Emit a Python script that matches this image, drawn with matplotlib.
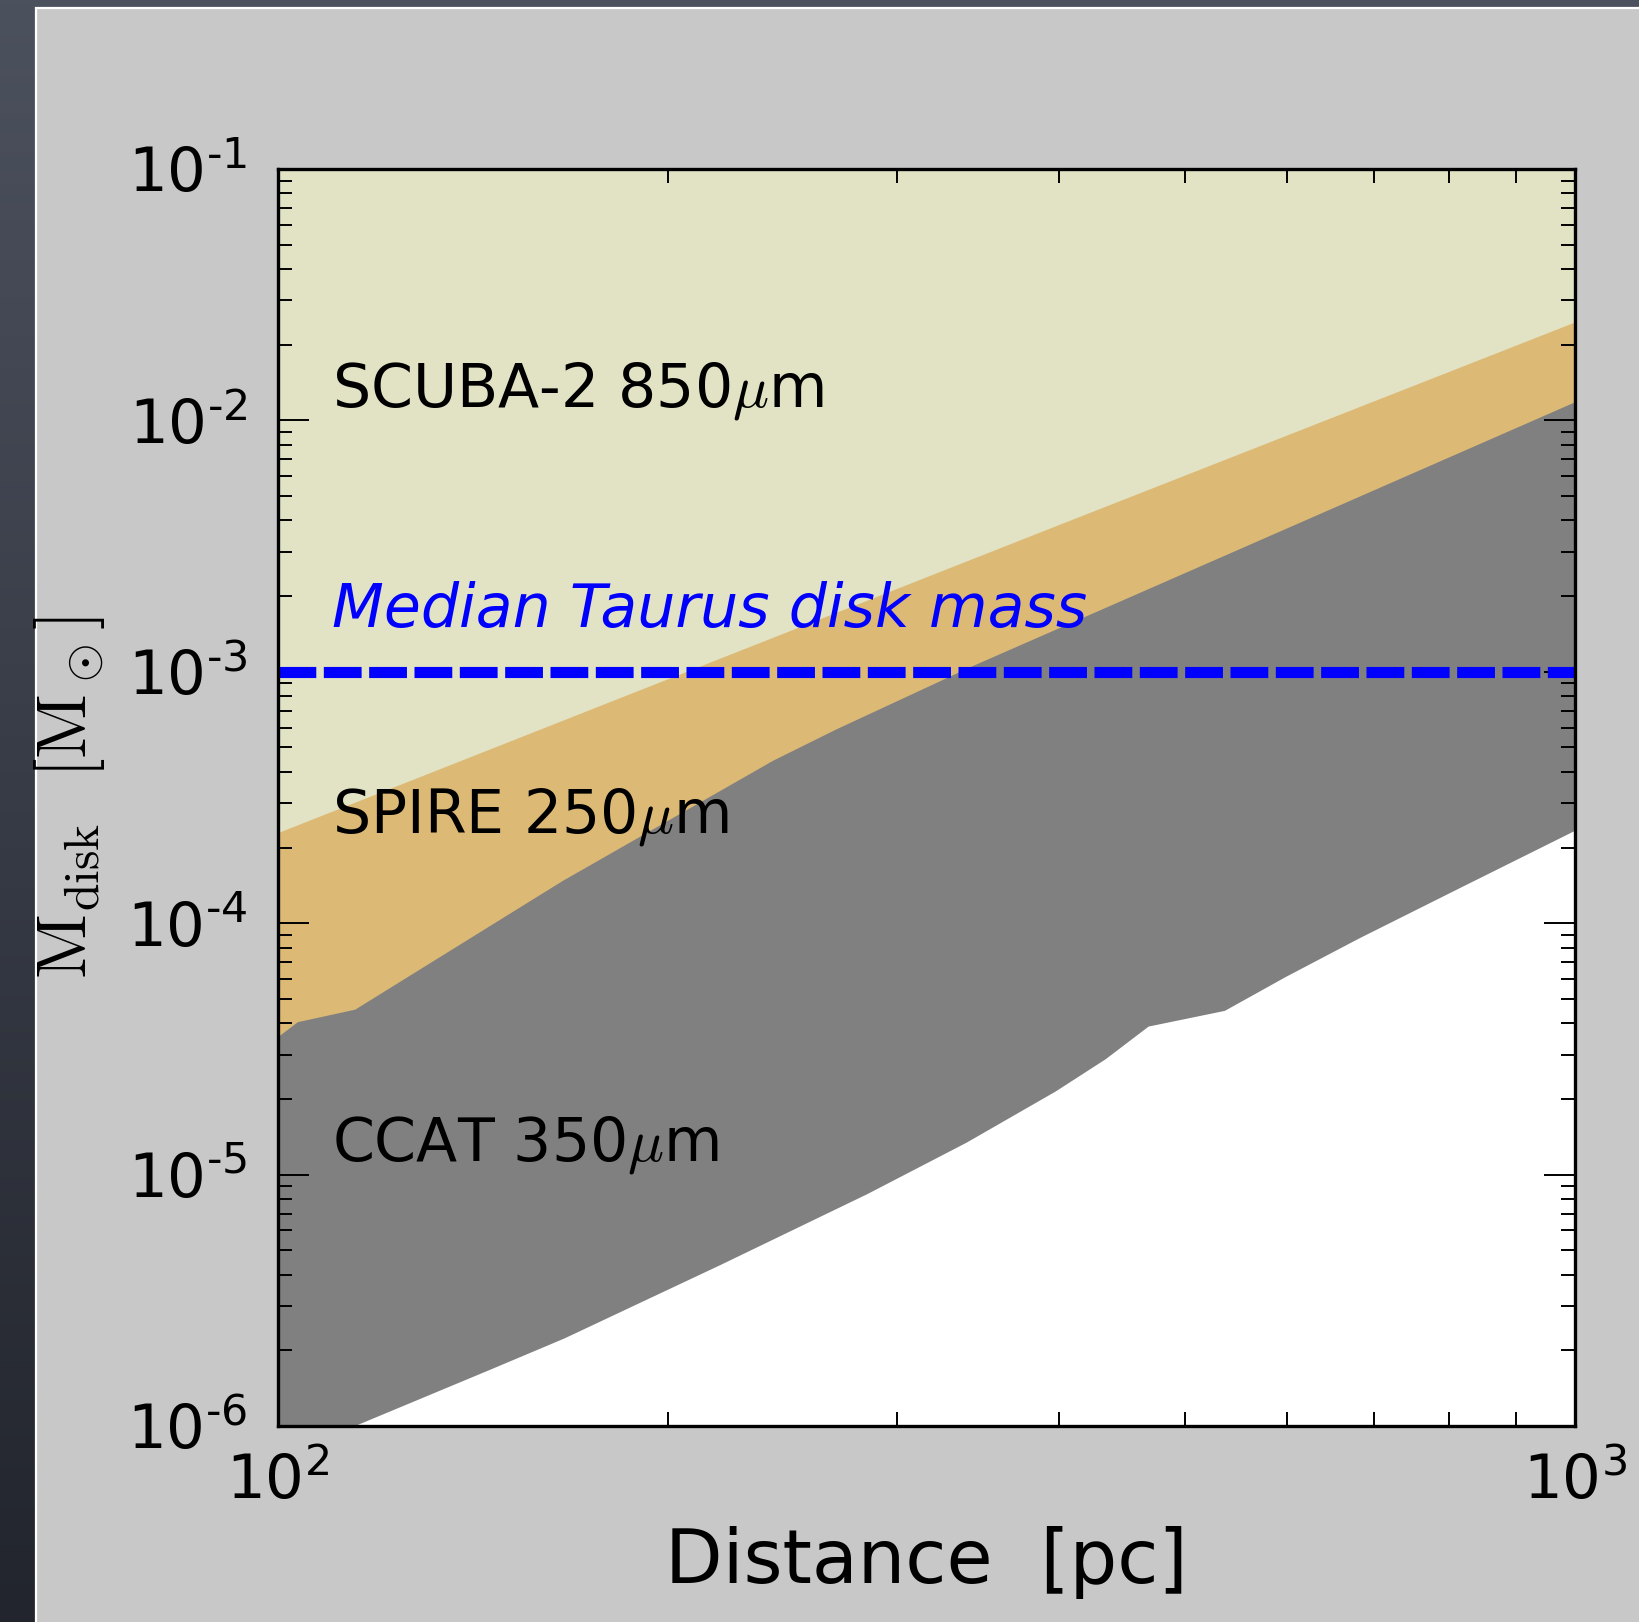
import numpy as np
import matplotlib
matplotlib.use("Agg")
import matplotlib.pyplot as plt
from matplotlib.patches import Rectangle
from matplotlib.colors import LinearSegmentedColormap
from matplotlib.ticker import FixedLocator, LogLocator, NullFormatter

plt.rcParams['font.family'] = ['DejaVu Sans']
plt.rcParams['mathtext.fontset'] = 'cm'

# ---------------- data ----------------
scuba_d = [100, 200, 400, 1000]
scuba_m = [2.28e-4, 9.35e-4, 3.83e-3, 2.45e-2]

spire_d = [100, 103.6, 114.7, 165.7, 240.9, 269.3, 342.8, 1000]
spire_m = [3.52e-5, 4.04e-5, 4.53e-5, 1.47e-4, 4.43e-4, 5.89e-4, 1.05e-3, 1.18e-2]

ccat_d = [100, 114.7, 146.0, 166.3, 219.6, 284.8, 339.6, 397.7, 434.8, 469.1,
          537.1, 598.1, 681.0, 820.0, 1000]
ccat_m = [7.45e-7, 1.0e-6, 1.68e-6, 2.23e-6, 4.38e-6, 8.37e-6, 1.34e-5, 2.14e-5,
          2.88e-5, 3.88e-5, 4.48e-5, 6.10e-5, 8.67e-5, 1.40e-4, 2.33e-4]

median_taurus = 1e-3
y_top = 1e-1

labels = ["SCUBA-2 850$\\mu$m", "SPIRE 250$\\mu$m", "CCAT 350$\\mu$m"]
label_pos = [(110.1, 1.14e-2), (110.1, 2.29e-4), (110.1, 1.14e-5)]
median_label = "Median Taurus disk mass"
median_label_pos = (110.1, 1.51e-3)

xticks = [100, 1000]
xtick_exp = ['2', '3']
yticks = [1e-6, 1e-5, 1e-4, 1e-3, 1e-2, 1e-1]
ytick_exp = ['-6', '-5', '-4', '-3', '-2', '-1']


def sci_label(e):
    e = e.replace('-', '\u2010')
    return r'$\mathdefault{10^{%s}}$' % e


# ---------------- figure ----------------
W, H = 1639, 1622
fig = plt.figure(figsize=(W / 100, H / 100), dpi=100)

# slide background
bg = fig.add_axes([0, 0, 1, 1], zorder=-10)
grad = np.linspace(0, 1, 256).reshape(-1, 1)
cmap = LinearSegmentedColormap.from_list("slide", ["#4c515e", "#22252d"])
bg.imshow(grad, aspect='auto', cmap=cmap, extent=[0, 1, 0, 1])
bg.set_axis_off()
bg.add_patch(Rectangle((35.5 / W, -0.01), 1.1, (H - 8) / H + 0.01, transform=bg.transAxes,
                       facecolor='#c8c8c8', edgecolor='white', linewidth=1.6, zorder=2))

ax = fig.add_axes([278 / W, 1 - 1426 / H, (1575 - 278) / W, (1426 - 169) / H])
ax.set_facecolor('white')
ax.set_xscale('log')
ax.set_yscale('log')

ax.fill_between(ccat_d, ccat_m, y_top, facecolor='#808080', edgecolor='none', zorder=0.5)
ax.fill_between(spire_d, spire_m, y_top, facecolor='#dcb975', edgecolor='none', zorder=0.6)
ax.fill_between(scuba_d, scuba_m, y_top, facecolor='#e2e2c4', edgecolor='none', zorder=0.7)

ax.axhline(median_taurus, color='#0000ff', lw=8, ls=(0, (3.4, 0.68)), zorder=2)

for lab, (x, y) in zip(labels, label_pos):
    ax.text(x, y, lab, fontsize=43.3, color='black', va='baseline', ha='left', zorder=3)
ax.text(*median_label_pos, median_label, fontsize=43.3, color='#0000ff', style='italic',
        va='baseline', ha='left', zorder=3)

ax.set_xlim(100, 1000)
ax.set_ylim(1e-6, 1e-1)

ax.xaxis.set_major_locator(FixedLocator(xticks))
ax.set_xticklabels([sci_label(e) for e in xtick_exp])
ax.yaxis.set_major_locator(FixedLocator(yticks))
ax.set_yticklabels([sci_label(e) for e in ytick_exp])
ax.xaxis.set_minor_locator(LogLocator(base=10, subs=np.arange(2, 10)))
ax.yaxis.set_minor_locator(LogLocator(base=10, subs=np.arange(2, 10), numticks=20))
ax.xaxis.set_minor_formatter(NullFormatter())
ax.yaxis.set_minor_formatter(NullFormatter())

ax.tick_params(which='both', direction='in', top=True, right=True, color='black')
ax.tick_params(which='major', length=22, width=1.4, labelsize=44)
ax.tick_params(which='minor', length=10, width=1.4)
ax.tick_params(axis='y', which='major', pad=22)
ax.tick_params(axis='x', which='major', pad=19)

for s in ax.spines.values():
    s.set_linewidth(2.4)
    s.set_zorder(10)

ax.set_xlabel('Distance  [pc]', fontsize=54, labelpad=10)
ax.set_ylabel(r'$\mathrm{M_{disk}\ \ [M_\odot]}$', fontsize=51)
ax.yaxis.set_label_coords(-0.132, 0.5)

fig.savefig('out.png', dpi=100)
